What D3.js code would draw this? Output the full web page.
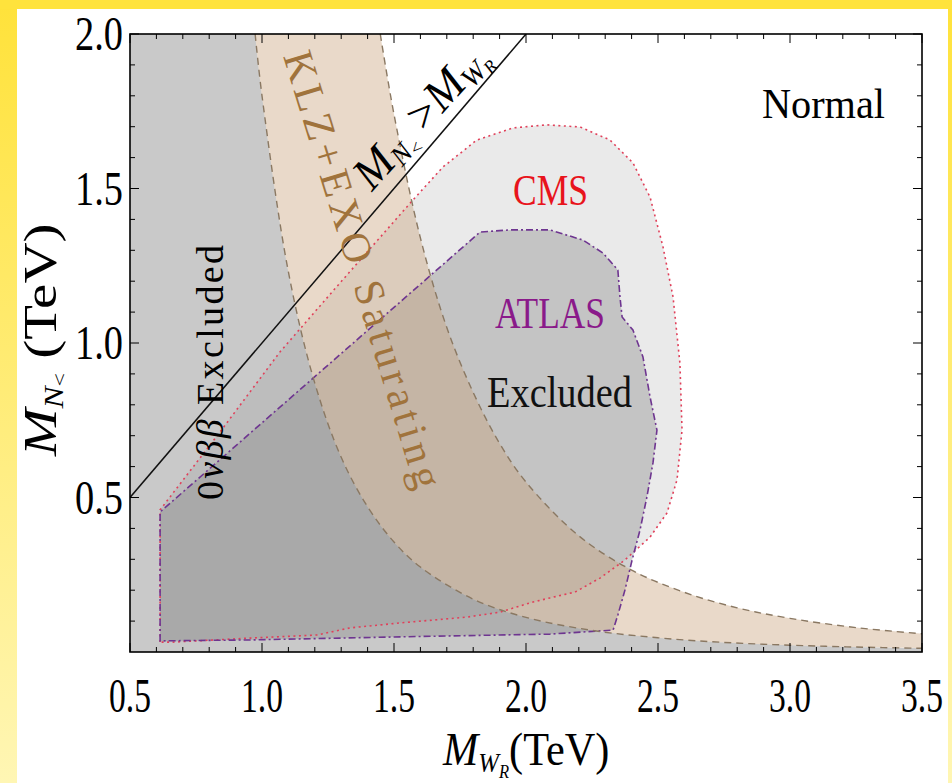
<!DOCTYPE html>
<html>
<head>
<meta charset="utf-8">
<script src="https://cdn.jsdelivr.net/npm/d3@7"></script>
<style>
  body { margin: 0; overflow: hidden; background: #fff; }
  text { font-family: "Liberation Serif", "DejaVu Serif", serif; }
</style>
</head>
<body>
<div id="chart"></div>
<script>
// axis ticks (TeV)
const xTicks = [0.5, 1.0, 1.5, 2.0, 2.5, 3.0, 3.5];
const yTicks = [0.5, 1.0, 1.5, 2.0];

// KLZ+EXO saturating band, [M_WR, M_N]
const klzLower = [[0.974, 2.0], [1.0, 1.8], [1.1, 1.23], [1.2, 0.87], [1.3, 0.63], [1.4, 0.47],
  [1.5, 0.356], [1.6, 0.275], [1.8, 0.171], [2.0, 0.112], [2.25, 0.070], [2.5, 0.046],
  [2.75, 0.031], [3.0, 0.022], [3.25, 0.016], [3.5, 0.012]];
const klzUpper = [[1.448, 2.0], [1.5, 1.74], [1.6, 1.34], [1.7, 1.05], [1.8, 0.84], [1.9, 0.675],
  [2.0, 0.55], [2.2, 0.376], [2.4, 0.265], [2.6, 0.193], [2.8, 0.143], [3.0, 0.109],
  [3.25, 0.079], [3.5, 0.059]];

// CMS excluded contour
const cmsRegion = [[0.614, 0.032], [0.614, 0.46], [0.841, 0.712], [1.068, 0.971], [1.295, 1.194],
  [1.572, 1.463], [1.686, 1.570], [1.814, 1.657], [1.951, 1.696], [2.080, 1.706], [2.205, 1.699],
  [2.318, 1.657], [2.405, 1.583], [2.470, 1.472], [2.519, 1.311], [2.557, 1.149], [2.583, 0.935],
  [2.591, 0.718], [2.572, 0.557], [2.534, 0.450], [2.470, 0.372], [2.375, 0.298], [2.280, 0.239],
  [2.186, 0.194], [2.091, 0.175], [2.027, 0.162], [1.902, 0.129], [1.777, 0.113], [1.523, 0.094],
  [1.333, 0.078], [1.208, 0.055], [0.955, 0.045], [0.663, 0.032]];

// ATLAS excluded contour
const atlasRegion = [[0.614, 0.036], [0.614, 0.453], [1.826, 1.359], [1.939, 1.366], [2.091, 1.366],
  [2.216, 1.333], [2.292, 1.291], [2.348, 1.236], [2.356, 1.149], [2.364, 1.084], [2.405, 1.042],
  [2.443, 0.955], [2.470, 0.825], [2.496, 0.718], [2.481, 0.612], [2.458, 0.502], [2.432, 0.395],
  [2.402, 0.298], [2.375, 0.201], [2.348, 0.120], [2.330, 0.071], [2.091, 0.058], [1.523, 0.049],
  [0.955, 0.039], [0.614, 0.036]];

const W = 952, H = 783;
const margin = { left: 130, right: 922, top: 34, bottom: 652 };

const svg = d3.select('#chart').append('svg')
  .attr('width', W).attr('height', H);

// slide background
const defs = svg.append('defs');
const grad = defs.append('linearGradient').attr('id', 'side')
  .attr('x1', 0).attr('y1', 0).attr('x2', 0).attr('y2', 1);
grad.append('stop').attr('offset', '0%').attr('stop-color', '#ffe23a');
grad.append('stop').attr('offset', '100%').attr('stop-color', '#fff6b4');
svg.append('rect').attr('width', W).attr('height', H).attr('fill', 'url(#side)');
svg.append('rect').attr('x', 0).attr('y', 0).attr('width', W).attr('height', 9).attr('fill', '#ffe33c');
svg.append('rect').attr('x', 17).attr('y', 9).attr('width', 931).attr('height', H - 9).attr('fill', '#fff');

defs.append('clipPath').attr('id', 'plot')
  .append('rect')
  .attr('x', margin.left).attr('y', margin.top)
  .attr('width', margin.right - margin.left).attr('height', margin.bottom - margin.top);

const x = d3.scaleLinear().domain([0.5, 3.5]).range([margin.left, margin.right]);
const y = d3.scaleLinear().domain([0, 2.0]).range([margin.bottom, margin.top]);

const line = d3.line().x(d => x(d[0])).y(d => y(d[1]));
const smooth = d3.line().x(d => x(d[0])).y(d => y(d[1])).curve(d3.curveCatmullRom);

const g = svg.append('g').attr('clip-path', 'url(#plot)');

// 0vbb excluded: everything left of the lower KLZ curve
const lowerPath = smooth(klzLower);
const onbbPath = `M${x(0.5)},${y(0)}L${x(0.5)},${y(2)}L` + lowerPath.slice(1) +
  `L${x(3.5)},${y(0)}Z`;
g.append('path').attr('d', onbbPath).attr('fill', '#c9c9c9');

g.append('path').attr('d', line(cmsRegion) + 'Z')
  .attr('fill', '#8c8c8c').attr('fill-opacity', 0.18);
g.append('path').attr('d', line(atlasRegion) + 'Z')
  .attr('fill', '#8c8c8c').attr('fill-opacity', 0.40);

const upperRev = smooth(klzUpper.slice().reverse());
const bandPath = lowerPath + 'L' + upperRev.slice(1) + 'Z';
g.append('path').attr('d', bandPath)
  .attr('fill', '#c8a078').attr('fill-opacity', 0.4);

// borders
g.append('path').attr('d', line(cmsRegion) + 'Z')
  .attr('fill', 'none').attr('stroke', '#e0405a').attr('stroke-width', 1.6)
  .attr('stroke-dasharray', '2,3.5');
g.append('path').attr('d', line(atlasRegion) + 'Z')
  .attr('fill', 'none').attr('stroke', '#6e3590').attr('stroke-width', 1.6)
  .attr('stroke-dasharray', '7,3,2,3');
[klzLower, klzUpper].forEach(c => {
  g.append('path').attr('d', smooth(c))
    .attr('fill', 'none').attr('stroke', '#8a7862').attr('stroke-width', 1.4)
    .attr('stroke-dasharray', '7,5');
});

// M_N = M_WR line
g.append('path').attr('d', line([[0.5, 0.5], [2.0, 2.0]]))
  .attr('stroke', '#111').attr('stroke-width', 1.5).attr('fill', 'none');

// frame and ticks
const axes = svg.append('g').attr('stroke', '#000');
axes.append('rect')
  .attr('x', margin.left).attr('y', margin.top)
  .attr('width', margin.right - margin.left).attr('height', margin.bottom - margin.top)
  .attr('fill', 'none').attr('stroke-width', 1.6);

const xMinor = d3.range(5, 36).map(i => i / 10);
const yMinor = d3.range(1, 21).map(i => i / 10);
xMinor.forEach(v => {
  const major = Math.abs(v * 2 - Math.round(v * 2)) < 1e-6;
  const len = major ? 9 : 5;
  axes.append('line').attr('x1', x(v)).attr('x2', x(v))
    .attr('y1', margin.bottom).attr('y2', margin.bottom - len).attr('stroke-width', 1);
  axes.append('line').attr('x1', x(v)).attr('x2', x(v))
    .attr('y1', margin.top).attr('y2', margin.top + len).attr('stroke-width', 1);
});
yMinor.forEach(v => {
  const major = Math.abs(v * 2 - Math.round(v * 2)) < 1e-6;
  const len = major ? 9 : 5;
  axes.append('line').attr('y1', y(v)).attr('y2', y(v))
    .attr('x1', margin.left).attr('x2', margin.left + len).attr('stroke-width', 1);
  axes.append('line').attr('y1', y(v)).attr('y2', y(v))
    .attr('x1', margin.right).attr('x2', margin.right - len).attr('stroke-width', 1);
});

// tick labels
svg.selectAll('text.xt').data(xTicks).enter().append('text')
  .attr('class', 'xt')
  .attr('x', d => x(d)).attr('y', 712)
  .attr('text-anchor', 'middle')
  .attr('font-size', 48)
  .attr('textLength', 42).attr('lengthAdjust', 'spacingAndGlyphs')
  .text(d => d.toFixed(1));
svg.selectAll('text.yt').data(yTicks).enter().append('text')
  .attr('class', 'yt')
  .attr('x', 123).attr('y', d => y(d) + 16)
  .attr('text-anchor', 'end')
  .attr('font-size', 48)
  .attr('textLength', 48).attr('lengthAdjust', 'spacingAndGlyphs')
  .text(d => d.toFixed(1));

// axis titles
const xt = svg.append('text').attr('transform', 'translate(443,765) scale(0.92,1)').attr('font-size', 46);
xt.append('tspan').attr('font-style', 'italic').text('M');
xt.append('tspan').attr('font-style', 'italic').attr('font-size', 27).attr('dy', 7).text('W');
xt.append('tspan').attr('font-style', 'italic').attr('font-size', 18).attr('dy', 6).text('R');
xt.append('tspan').attr('dy', -13).text('(TeV)');

const yt = svg.append('text').attr('transform', 'translate(56,456) rotate(-90) scale(1.14,0.92)').attr('font-size', 50);
yt.append('tspan').attr('font-style', 'italic').text('M');
yt.append('tspan').attr('font-style', 'italic').attr('font-size', 29).attr('dy', 8).text('N');
yt.append('tspan').attr('font-size', 21).attr('dy', 3).text('<');
yt.append('tspan').attr('dy', -11).text(' (TeV)');

// region labels
svg.append('text').attr('x', 762).attr('y', 118).attr('font-size', 42)
  .attr('textLength', 123).attr('lengthAdjust', 'spacingAndGlyphs').text('Normal');
svg.append('text').attr('x', 513).attr('y', 205).attr('font-size', 44).attr('fill', '#e8141c')
  .attr('textLength', 75).attr('lengthAdjust', 'spacingAndGlyphs').text('CMS');
svg.append('text').attr('x', 495).attr('y', 328).attr('font-size', 44).attr('fill', '#8a1a8a')
  .attr('textLength', 110).attr('lengthAdjust', 'spacingAndGlyphs').text('ATLAS');
svg.append('text').attr('x', 487).attr('y', 407).attr('font-size', 44).attr('fill', '#111')
  .attr('textLength', 145).attr('lengthAdjust', 'spacingAndGlyphs').text('Excluded');

const bb = svg.append('text').attr('transform', 'translate(223,500) rotate(-90)')
  .attr('font-size', 38).attr('textLength', 255).attr('lengthAdjust', 'spacing');
bb.append('tspan').text('0');
bb.append('tspan').attr('font-style', 'italic').text('νββ');
bb.append('tspan').text(' Excluded');

svg.append('text').attr('transform', 'translate(283,56) rotate(73)')
  .attr('font-size', 42).attr('fill', '#a0733c')
  .attr('textLength', 455).attr('lengthAdjust', 'spacing')
  .text('KLZ+EXO Saturating');

const dl = svg.append('text').attr('transform', 'translate(372,192) rotate(-48)').attr('font-size', 46);
dl.append('tspan').attr('font-style', 'italic').text('M');
dl.append('tspan').attr('font-style', 'italic').attr('font-size', 28).attr('dy', 6).text('N');
dl.append('tspan').attr('font-size', 19).attr('dy', 4).text('<');
dl.append('tspan').attr('dy', -10).text(' >');
dl.append('tspan').attr('font-style', 'italic').text('M');
dl.append('tspan').attr('font-style', 'italic').attr('font-size', 28).attr('dy', 6).text('W');
dl.append('tspan').attr('font-style', 'italic').attr('font-size', 18).attr('dy', 4).text('R');
</script>
</body>
</html>
